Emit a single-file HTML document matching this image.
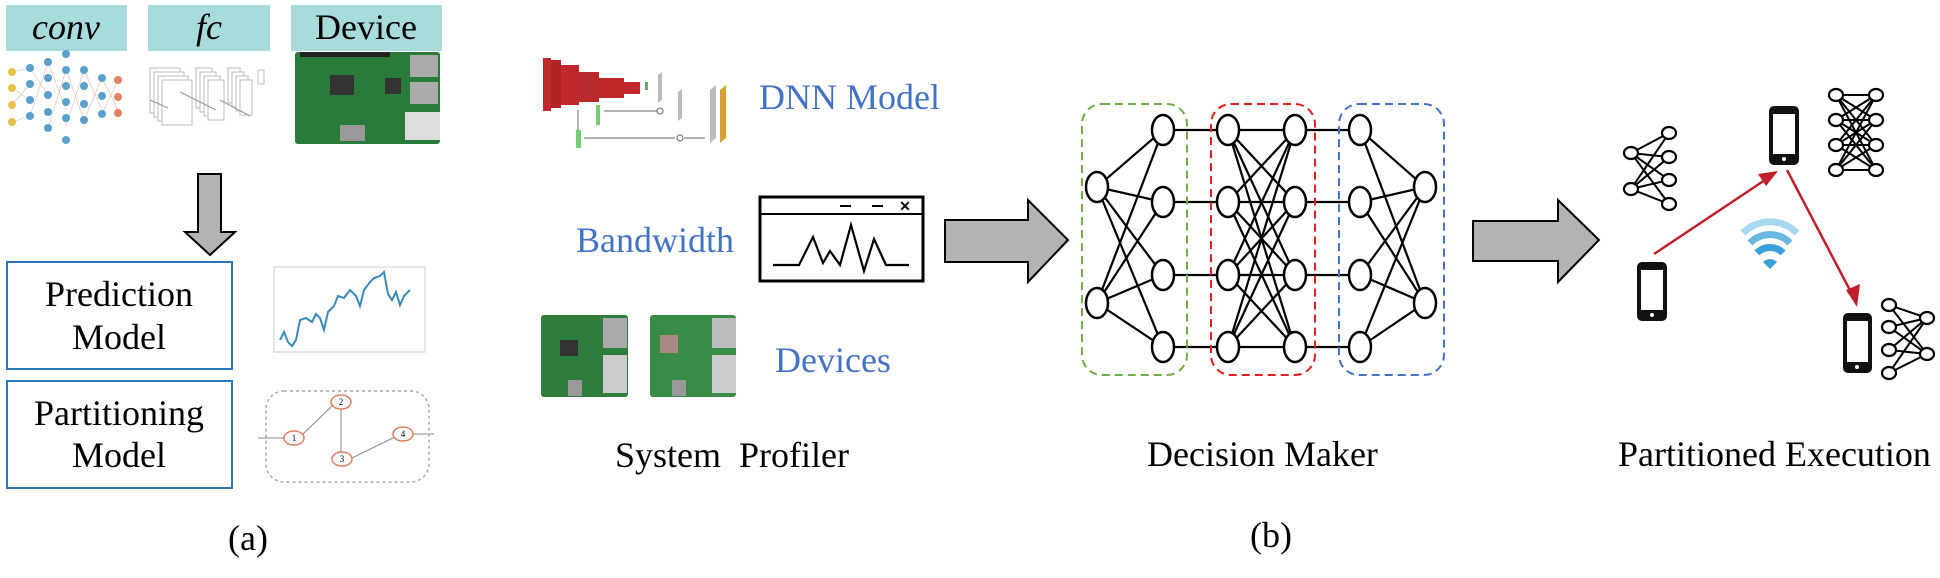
<!DOCTYPE html>
<html><head><meta charset="utf-8"><style>
html,body{margin:0;padding:0;background:#fff;}
svg{display:block;}
text{font-family:"Liberation Serif",serif;}
</style></head><body>
<svg width="1940" height="578" viewBox="0 0 1940 578" xmlns="http://www.w3.org/2000/svg">
<!-- (a) top labels -->
<rect x="6" y="5" width="121" height="46" fill="#a8dcdc"/>
<rect x="148" y="5" width="122" height="46" fill="#a8dcdc"/>
<rect x="291" y="5" width="151" height="46" fill="#a8dcdc"/>
<text x="66" y="39" font-size="36" font-style="italic" text-anchor="middle">conv</text>
<text x="209" y="39" font-size="36" font-style="italic" text-anchor="middle">fc</text>
<text x="366" y="39" font-size="36" text-anchor="middle">Device</text>
<!-- conv image -->
<g stroke="#e0b8b0" stroke-width="0.6">
<line x1="12" y1="72" x2="30" y2="68"/><line x1="12" y1="88" x2="30" y2="100"/><line x1="12" y1="105" x2="30" y2="84"/><line x1="12" y1="122" x2="30" y2="116"/>
<line x1="30" y1="68" x2="48" y2="95"/><line x1="30" y1="116" x2="48" y2="62"/><line x1="48" y1="62" x2="66" y2="110"/><line x1="48" y1="128" x2="66" y2="70"/>
<line x1="66" y1="70" x2="84" y2="120"/><line x1="66" y1="126" x2="84" y2="70"/><line x1="84" y1="70" x2="102" y2="110"/><line x1="84" y1="120" x2="102" y2="78"/>
<line x1="102" y1="78" x2="118" y2="110"/><line x1="102" y1="114" x2="118" y2="80"/>
</g>
<g fill="#e8c050"><circle cx="12" cy="72" r="4"/><circle cx="12" cy="88" r="4"/><circle cx="12" cy="105" r="4"/><circle cx="12" cy="122" r="4"/></g>
<g fill="#5aa0cc">
<circle cx="30" cy="68" r="4"/><circle cx="30" cy="84" r="4"/><circle cx="30" cy="100" r="4"/><circle cx="30" cy="116" r="4"/>
<circle cx="48" cy="62" r="4"/><circle cx="48" cy="78" r="4"/><circle cx="48" cy="95" r="4"/><circle cx="48" cy="112" r="4"/><circle cx="48" cy="128" r="4"/>
<circle cx="66" cy="54" r="4"/><circle cx="66" cy="70" r="4"/><circle cx="66" cy="86" r="4"/><circle cx="66" cy="102" r="4"/><circle cx="66" cy="118" r="4"/><circle cx="66" cy="140" r="4"/>
<circle cx="84" cy="70" r="4"/><circle cx="84" cy="86" r="4"/><circle cx="84" cy="104" r="4"/><circle cx="84" cy="120" r="4"/>
<circle cx="102" cy="78" r="4"/><circle cx="102" cy="96" r="4"/><circle cx="102" cy="114" r="4"/>
</g>
<g fill="#e88060"><circle cx="118" cy="80" r="4"/><circle cx="118" cy="97" r="4"/><circle cx="118" cy="113" r="4"/></g>
<!-- fc image -->
<g fill="#fff" stroke="#bbb" stroke-width="1">
<rect x="150" y="68" width="30" height="45"/><rect x="154" y="72" width="30" height="45"/><rect x="158" y="76" width="30" height="45"/><rect x="162" y="80" width="30" height="45"/>
<rect x="196" y="68" width="16" height="40"/><rect x="200" y="72" width="16" height="40"/><rect x="204" y="76" width="16" height="40"/><rect x="208" y="80" width="16" height="40"/>
<rect x="228" y="68" width="12" height="35"/><rect x="232" y="72" width="12" height="35"/><rect x="236" y="76" width="12" height="35"/><rect x="240" y="80" width="12" height="35"/>
<rect x="258" y="70" width="6" height="14"/>
</g>
<g stroke="#999" stroke-width="1"><line x1="180" y1="92" x2="216" y2="110"/><line x1="220" y1="100" x2="250" y2="116"/><line x1="150" y1="100" x2="168" y2="108"/></g>
<!-- device board top -->
<rect x="295" y="52" width="145" height="92" fill="#2a7a3a" rx="3"/>
<rect x="330" y="75" width="24" height="20" fill="#333"/>
<rect x="385" y="78" width="16" height="16" fill="#333"/>
<rect x="410" y="55" width="28" height="22" fill="#aaa"/><rect x="410" y="82" width="28" height="22" fill="#aaa"/><rect x="405" y="112" width="35" height="28" fill="#ddd"/>
<rect x="340" y="125" width="25" height="16" fill="#999"/>
<rect x="300" y="52" width="90" height="5" fill="#222"/>
<!-- down arrow -->
<polygon points="198,174 221,174 221,232 235,232 210,255 185,232 198,232" fill="#b3b3b3" stroke="#000" stroke-width="2"/>
<!-- boxes -->
<rect x="7" y="262" width="225" height="107" fill="#fff" stroke="#2e75c0" stroke-width="2"/>
<rect x="7" y="381" width="225" height="107" fill="#fff" stroke="#2e75c0" stroke-width="2"/>
<text x="119" y="306" font-size="36" text-anchor="middle">Prediction</text>
<text x="119" y="349" font-size="36" text-anchor="middle">Model</text>
<text x="119" y="425" font-size="36" text-anchor="middle">Partitioning</text>
<text x="119" y="467" font-size="36" text-anchor="middle">Model</text>
<!-- chart -->
<rect x="274" y="267" width="151" height="85" fill="none" stroke="#ccc" stroke-width="1"/>
<polyline points="280,340 284,332 288,342 292,346 296,340 300,320 306,318 312,322 316,314 320,318 324,330 328,312 334,306 338,296 344,298 350,290 356,296 360,306 364,290 370,282 374,278 380,276 384,272 388,294 392,300 396,292 400,305 404,296 410,290" fill="none" stroke="#3a8ab8" stroke-width="2"/>
<text x="330" y="362" font-size="4" fill="#aaa">.</text>
<!-- partition graph -->
<rect x="266" y="391" width="163" height="91" rx="18" fill="none" stroke="#aaa" stroke-width="1.5" stroke-dasharray="3,3"/>
<g stroke="#888" stroke-width="1" fill="none">
<line x1="258" y1="438" x2="284" y2="438"/><line x1="303" y1="434" x2="333" y2="405"/><line x1="341" y1="408" x2="341" y2="452"/><line x1="352" y1="458" x2="395" y2="437"/><line x1="412" y1="434" x2="434" y2="434"/>
</g>
<g fill="#fff" stroke="#e08060" stroke-width="1.5">
<ellipse cx="294" cy="438" rx="10" ry="7"/><ellipse cx="341" cy="402" rx="10" ry="7"/><ellipse cx="342" cy="459" rx="10" ry="7"/><ellipse cx="403" cy="434" rx="10" ry="7"/>
</g>
<g font-size="9" text-anchor="middle" font-family="Liberation Sans,sans-serif"><text x="294" y="441">1</text><text x="341" y="405">2</text><text x="342" y="462">3</text><text x="403" y="437">4</text></g>
<text x="248" y="550" font-size="36" text-anchor="middle">(a)</text>

<!-- (b) System profiler -->
<!-- DNN model image -->
<rect x="543" y="58" width="8" height="53" fill="#c0282c"/><rect x="551" y="60" width="10" height="48" fill="#b02428"/><rect x="561" y="65" width="18" height="40" fill="#c0282c"/>
<rect x="579" y="72" width="20" height="30" fill="#b82a2c"/><rect x="599" y="78" width="25" height="20" fill="#c0282c"/><rect x="624" y="82" width="16" height="12" fill="#c0282c"/>
<g stroke="#666" stroke-width="1" fill="none">
<line x1="578" y1="110" x2="578" y2="136"/><line x1="598" y1="110" x2="598" y2="120"/>
<line x1="604" y1="111" x2="657" y2="111"/><line x1="584" y1="138" x2="675" y2="138"/>
<circle cx="660" cy="111" r="3"/><circle cx="680" cy="138" r="3"/><line x1="684" y1="138" x2="705" y2="138"/>
</g>
<rect x="645" y="82" width="3" height="8" fill="#6a6"/>
<rect x="596" y="105" width="4" height="20" fill="#7c7"/><rect x="576" y="130" width="5" height="18" fill="#7c7"/>
<polygon points="658,75 662,72 662,100 658,103" fill="#bbb"/><polygon points="678,92 682,89 682,118 678,121" fill="#bbb"/>
<polygon points="710,90 716,85 716,138 710,143" fill="#bbb"/><polygon points="720,90 726,85 726,138 720,143" fill="#d8a030"/>
<text x="759" y="109" font-size="36" fill="#4472c4">DNN Model</text>
<text x="576" y="252" font-size="36" fill="#4472c4">Bandwidth</text>
<!-- window -->
<rect x="760" y="197" width="163" height="84" fill="#fff" stroke="#000" stroke-width="3"/>
<line x1="760" y1="214" x2="923" y2="214" stroke="#000" stroke-width="2"/>
<line x1="840" y1="206" x2="851" y2="206" stroke="#000" stroke-width="2"/>
<line x1="872" y1="206" x2="883" y2="206" stroke="#000" stroke-width="2"/>
<text x="905" y="211" font-size="14" font-weight="bold" text-anchor="middle" font-family="Liberation Sans,sans-serif">✕</text>
<polyline points="773,265 799,265 813,237 823,263 830,251 840,265 851,225 864,271 874,239 886,265 909,265" fill="none" stroke="#000" stroke-width="2.2"/>
<!-- devices -->
<rect x="541" y="315" width="87" height="82" fill="#2f7d3c" rx="3"/>
<rect x="560" y="340" width="18" height="16" fill="#333"/><rect x="603" y="318" width="24" height="30" fill="#aaa"/><rect x="603" y="355" width="24" height="38" fill="#ccc"/>
<rect x="568" y="380" width="14" height="16" fill="#999"/>
<rect x="650" y="315" width="86" height="82" fill="#3a8a48" rx="3"/>
<rect x="660" y="335" width="18" height="18" fill="#a88"/><rect x="712" y="318" width="24" height="30" fill="#bbb"/><rect x="712" y="355" width="24" height="38" fill="#ccc"/>
<rect x="672" y="380" width="14" height="16" fill="#999"/>
<text x="775" y="372" font-size="36" fill="#4472c4">Devices</text>
<text x="615" y="467" font-size="36" xml:space="preserve">System  Profiler</text>

<!-- arrow 1 -->
<polygon points="945,220 1028,220 1028,200 1068,240 1028,282 1028,262 945,262" fill="#b3b3b3" stroke="#000" stroke-width="2"/>

<!-- decision maker network -->
<g stroke="#000" stroke-width="2.2">
<!-- col1 -> col2 -->
<line x1="1097" y1="187" x2="1163" y2="130"/><line x1="1097" y1="187" x2="1163" y2="202"/><line x1="1097" y1="187" x2="1163" y2="275"/><line x1="1097" y1="187" x2="1163" y2="347"/>
<line x1="1097" y1="303" x2="1163" y2="130"/><line x1="1097" y1="303" x2="1163" y2="202"/><line x1="1097" y1="303" x2="1163" y2="275"/><line x1="1097" y1="303" x2="1163" y2="347"/>
<!-- col2 -> col3 -->
<line x1="1163" y1="130" x2="1228" y2="130"/><line x1="1163" y1="202" x2="1228" y2="202"/><line x1="1163" y1="275" x2="1228" y2="275"/><line x1="1163" y1="347" x2="1228" y2="347"/>
<!-- col3 -> col4 -->
<line x1="1228" y1="130" x2="1295" y2="130"/><line x1="1228" y1="130" x2="1295" y2="202"/><line x1="1228" y1="130" x2="1295" y2="275"/><line x1="1228" y1="130" x2="1295" y2="347"/>
<line x1="1228" y1="202" x2="1295" y2="130"/><line x1="1228" y1="202" x2="1295" y2="202"/><line x1="1228" y1="202" x2="1295" y2="275"/><line x1="1228" y1="202" x2="1295" y2="347"/>
<line x1="1228" y1="275" x2="1295" y2="130"/><line x1="1228" y1="275" x2="1295" y2="202"/><line x1="1228" y1="275" x2="1295" y2="275"/><line x1="1228" y1="275" x2="1295" y2="347"/>
<line x1="1228" y1="347" x2="1295" y2="130"/><line x1="1228" y1="347" x2="1295" y2="202"/><line x1="1228" y1="347" x2="1295" y2="275"/><line x1="1228" y1="347" x2="1295" y2="347"/>
<!-- col4 -> col5 -->
<line x1="1295" y1="130" x2="1360" y2="130"/><line x1="1295" y1="202" x2="1360" y2="202"/><line x1="1295" y1="275" x2="1360" y2="275"/><line x1="1295" y1="347" x2="1360" y2="347"/>
<!-- col5 -> col6 -->
<line x1="1360" y1="130" x2="1425" y2="187"/><line x1="1360" y1="202" x2="1425" y2="187"/><line x1="1360" y1="275" x2="1425" y2="187"/><line x1="1360" y1="347" x2="1425" y2="187"/>
<line x1="1360" y1="130" x2="1425" y2="303"/><line x1="1360" y1="202" x2="1425" y2="303"/><line x1="1360" y1="275" x2="1425" y2="303"/><line x1="1360" y1="347" x2="1425" y2="303"/>
</g>
<g fill="#fff" stroke="#000" stroke-width="2.5">
<ellipse cx="1097" cy="187" rx="11" ry="15"/><ellipse cx="1097" cy="303" rx="11" ry="15"/>
<ellipse cx="1163" cy="130" rx="11" ry="15"/><ellipse cx="1163" cy="202" rx="11" ry="15"/><ellipse cx="1163" cy="275" rx="11" ry="15"/><ellipse cx="1163" cy="347" rx="11" ry="15"/>
<ellipse cx="1228" cy="130" rx="11" ry="15"/><ellipse cx="1228" cy="202" rx="11" ry="15"/><ellipse cx="1228" cy="275" rx="11" ry="15"/><ellipse cx="1228" cy="347" rx="11" ry="15"/>
<ellipse cx="1295" cy="130" rx="11" ry="15"/><ellipse cx="1295" cy="202" rx="11" ry="15"/><ellipse cx="1295" cy="275" rx="11" ry="15"/><ellipse cx="1295" cy="347" rx="11" ry="15"/>
<ellipse cx="1360" cy="130" rx="11" ry="15"/><ellipse cx="1360" cy="202" rx="11" ry="15"/><ellipse cx="1360" cy="275" rx="11" ry="15"/><ellipse cx="1360" cy="347" rx="11" ry="15"/>
<ellipse cx="1425" cy="187" rx="11" ry="15"/><ellipse cx="1425" cy="303" rx="11" ry="15"/>
</g>
<rect x="1082" y="104" width="105" height="271" rx="20" fill="none" stroke="#70ad47" stroke-width="2" stroke-dasharray="8,5"/>
<rect x="1211" y="104" width="104" height="271" rx="20" fill="none" stroke="#e02020" stroke-width="2" stroke-dasharray="8,5"/>
<rect x="1339" y="104" width="105" height="271" rx="20" fill="none" stroke="#4472c4" stroke-width="2" stroke-dasharray="8,5"/>
<text x="1147" y="466" font-size="36">Decision Maker</text>
<text x="1271" y="547" font-size="36" text-anchor="middle">(b)</text>

<!-- arrow 2 -->
<polygon points="1473,221 1558,221 1558,200 1599,240 1558,282 1558,261 1473,261" fill="#b3b3b3" stroke="#000" stroke-width="2"/>

<!-- phones -->
<g>
<rect x="1637" y="262" width="30" height="59" rx="5" fill="#111"/><rect x="1641" y="270" width="22" height="40" fill="#fff"/><circle cx="1652" cy="315" r="2" fill="#fff"/>
<rect x="1769" y="106" width="30" height="59" rx="5" fill="#111"/><rect x="1773" y="114" width="22" height="40" fill="#fff"/><circle cx="1784" cy="159" r="2" fill="#fff"/>
<rect x="1843" y="313" width="29" height="60" rx="5" fill="#111"/><rect x="1847" y="321" width="21" height="41" fill="#fff"/><circle cx="1857" cy="367" r="2" fill="#fff"/>
</g>
<!-- red arrows -->
<g stroke="#c0202a" stroke-width="2.5" fill="#c0202a">
<line x1="1654" y1="254" x2="1768" y2="178"/>
<polygon points="1778,171 1758,174 1766,186" stroke="none"/>
<line x1="1787" y1="170" x2="1853" y2="296"/>
<polygon points="1857,307 1846,290 1860,284" stroke="none"/>
</g>
<!-- wifi -->
<g fill="none" stroke-linecap="butt">
<path d="M1743,233 A38,38 0 0 1 1797,233" stroke="#a8d8f0" stroke-width="7"/>
<path d="M1750,243 A28,28 0 0 1 1790,243" stroke="#6ab8e0" stroke-width="7"/>
<path d="M1757,253 A18,18 0 0 1 1783,253" stroke="#3aa0d8" stroke-width="7"/>
</g>
<path d="M1763,262 A10,10 0 0 1 1777,262 L1770,269 Z" fill="#3aa0d8"/>
<!-- small nets -->
<g stroke="#000" stroke-width="2">
<line x1="1631" y1="153" x2="1669" y2="133"/><line x1="1631" y1="153" x2="1669" y2="157"/><line x1="1631" y1="153" x2="1669" y2="180"/><line x1="1631" y1="153" x2="1669" y2="204"/>
<line x1="1631" y1="189" x2="1669" y2="133"/><line x1="1631" y1="189" x2="1669" y2="157"/><line x1="1631" y1="189" x2="1669" y2="180"/><line x1="1631" y1="189" x2="1669" y2="204"/>
<line x1="1836" y1="95" x2="1876" y2="95"/><line x1="1836" y1="95" x2="1876" y2="120"/><line x1="1836" y1="95" x2="1876" y2="145"/><line x1="1836" y1="95" x2="1876" y2="170"/>
<line x1="1836" y1="120" x2="1876" y2="95"/><line x1="1836" y1="120" x2="1876" y2="120"/><line x1="1836" y1="120" x2="1876" y2="145"/><line x1="1836" y1="120" x2="1876" y2="170"/>
<line x1="1836" y1="145" x2="1876" y2="95"/><line x1="1836" y1="145" x2="1876" y2="120"/><line x1="1836" y1="145" x2="1876" y2="145"/><line x1="1836" y1="145" x2="1876" y2="170"/>
<line x1="1836" y1="170" x2="1876" y2="95"/><line x1="1836" y1="170" x2="1876" y2="120"/><line x1="1836" y1="170" x2="1876" y2="145"/><line x1="1836" y1="170" x2="1876" y2="170"/>
<line x1="1889" y1="305" x2="1927" y2="318"/><line x1="1889" y1="327" x2="1927" y2="318"/><line x1="1889" y1="350" x2="1927" y2="318"/><line x1="1889" y1="373" x2="1927" y2="318"/>
<line x1="1889" y1="305" x2="1927" y2="354"/><line x1="1889" y1="327" x2="1927" y2="354"/><line x1="1889" y1="350" x2="1927" y2="354"/><line x1="1889" y1="373" x2="1927" y2="354"/>
</g>
<g fill="#fff" stroke="#000" stroke-width="2.2">
<ellipse cx="1631" cy="153" rx="7" ry="6"/><ellipse cx="1631" cy="189" rx="7" ry="6"/>
<ellipse cx="1669" cy="133" rx="7" ry="6"/><ellipse cx="1669" cy="157" rx="7" ry="6"/><ellipse cx="1669" cy="180" rx="7" ry="6"/><ellipse cx="1669" cy="204" rx="7" ry="6"/>
<ellipse cx="1836" cy="95" rx="7" ry="6"/><ellipse cx="1836" cy="120" rx="7" ry="6"/><ellipse cx="1836" cy="145" rx="7" ry="6"/><ellipse cx="1836" cy="170" rx="7" ry="6"/>
<ellipse cx="1876" cy="95" rx="7" ry="6"/><ellipse cx="1876" cy="120" rx="7" ry="6"/><ellipse cx="1876" cy="145" rx="7" ry="6"/><ellipse cx="1876" cy="170" rx="7" ry="6"/>
<ellipse cx="1889" cy="305" rx="7" ry="6"/><ellipse cx="1889" cy="327" rx="7" ry="6"/><ellipse cx="1889" cy="350" rx="7" ry="6"/><ellipse cx="1889" cy="373" rx="7" ry="6"/>
<ellipse cx="1927" cy="318" rx="7" ry="6"/><ellipse cx="1927" cy="354" rx="7" ry="6"/>
</g>
<text x="1618" y="466" font-size="36">Partitioned Execution</text>
</svg>
</body></html>
